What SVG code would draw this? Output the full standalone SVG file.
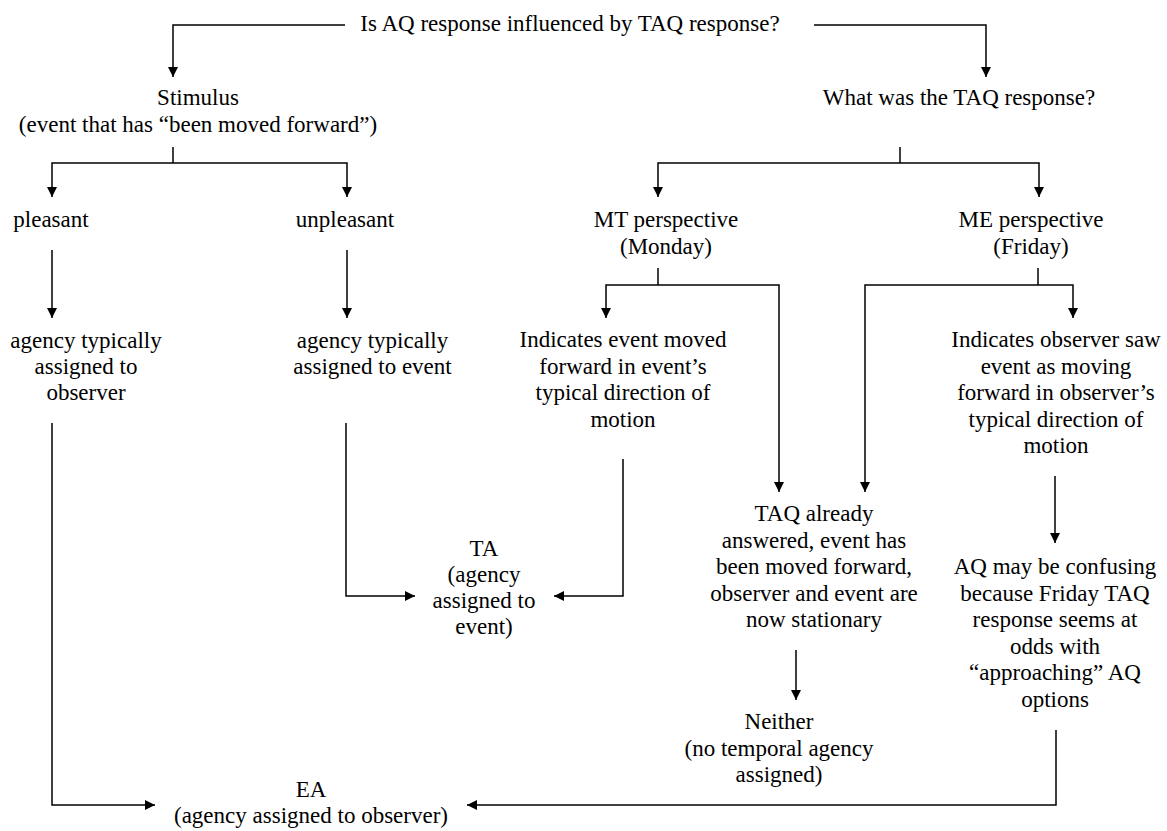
<svg xmlns="http://www.w3.org/2000/svg" width="1167" height="831" viewBox="0 0 1167 831">
<defs>
<style>
text{font-family:"Liberation Serif","Times New Roman",serif;font-size:23px;fill:#000;text-anchor:middle}
.c path,.c line{fill:none;stroke:#000;stroke-width:1.5}
</style>
<marker id="ah" markerUnits="userSpaceOnUse" markerWidth="10" markerHeight="10" refX="10" refY="5" orient="auto" viewBox="0 0 10 10">
<path d="M0,0 L10,5 L0,10 z" fill="#000"/>
</marker>
</defs>
<rect width="1167" height="831" fill="#fff"/>
<g class="c" id="connectors">
<path d="M345,25 H173 V77" marker-end="url(#ah)"/>
<path d="M814,25 H986 V77" marker-end="url(#ah)"/>
<line x1="173" y1="147" x2="173" y2="163"/>
<path d="M173,163 H52 V197" marker-end="url(#ah)"/>
<path d="M173,163 H347 V197" marker-end="url(#ah)"/>
<line x1="52" y1="250" x2="52" y2="318" marker-end="url(#ah)"/>
<line x1="347" y1="250" x2="347" y2="318" marker-end="url(#ah)"/>
<line x1="900" y1="147" x2="900" y2="163"/>
<path d="M900,163 H658 V197" marker-end="url(#ah)"/>
<path d="M900,163 H1039 V197" marker-end="url(#ah)"/>
<line x1="658" y1="268" x2="658" y2="285"/>
<path d="M658,285 H606 V318" marker-end="url(#ah)"/>
<path d="M658,285 H779 V492" marker-end="url(#ah)"/>
<line x1="1038" y1="268" x2="1038" y2="285"/>
<path d="M1038,285 H1073 V318" marker-end="url(#ah)"/>
<path d="M1038,285 H865 V492" marker-end="url(#ah)"/>
<path d="M623,459 V596 H554" marker-end="url(#ah)"/>
<path d="M346,423 V596 H415" marker-end="url(#ah)"/>
<path d="M52,423 V805 H155" marker-end="url(#ah)"/>
<path d="M1056,730 V805 H467" marker-end="url(#ah)"/>
<line x1="1055" y1="476" x2="1055" y2="543" marker-end="url(#ah)"/>
<line x1="796" y1="650" x2="796" y2="700" marker-end="url(#ah)"/>
</g>
<g id="n-question"><text x="570" y="31">Is AQ response influenced by TAQ response?</text></g>
<g id="n-stimulus"><text x="198" y="105">Stimulus</text><text x="198" y="131.5">(event that has “been moved forward”)</text></g>
<g id="n-taq-response"><text x="959" y="105">What was the TAQ response?</text></g>
<g id="n-pleasant"><text x="51" y="227">pleasant</text></g>
<g id="n-unpleasant"><text x="345" y="227">unpleasant</text></g>
<g id="n-mt"><text x="666" y="227">MT perspective</text><text x="666" y="253.5">(Monday)</text></g>
<g id="n-me"><text x="1031" y="227">ME perspective</text><text x="1031" y="253.5">(Friday)</text></g>
<g id="n-agency-observer"><text x="86" y="348">agency typically</text><text x="86" y="374">assigned to</text><text x="86" y="400">observer</text></g>
<g id="n-agency-event"><text x="372.5" y="348">agency typically</text><text x="372.5" y="374">assigned to event</text></g>
<g id="n-mt-indicates"><text x="623" y="347">Indicates event moved</text><text x="623" y="373.5">forward in event’s</text><text x="623" y="400">typical direction of</text><text x="623" y="426.5">motion</text></g>
<g id="n-me-indicates"><text x="1056" y="347">Indicates observer saw</text><text x="1056" y="373.5">event as moving</text><text x="1056" y="400">forward in observer’s</text><text x="1056" y="426.5">typical direction of</text><text x="1056" y="453">motion</text></g>
<g id="n-taq-answered"><text x="814" y="521">TAQ already</text><text x="814" y="547.5">answered, event has</text><text x="814" y="574">been moved forward,</text><text x="814" y="600.5">observer and event are</text><text x="814" y="627">now stationary</text></g>
<g id="n-ta"><text x="484" y="556">TA</text><text x="484" y="582">(agency</text><text x="484" y="608">assigned to</text><text x="484" y="634">event)</text></g>
<g id="n-aq-confusing"><text x="1055" y="574">AQ may be confusing</text><text x="1055" y="600.5">because Friday TAQ</text><text x="1055" y="627">response seems at</text><text x="1055" y="653.5">odds with</text><text x="1055" y="680">“approaching” AQ</text><text x="1055" y="706.5">options</text></g>
<g id="n-neither"><text x="779" y="729">Neither</text><text x="779" y="755.5">(no temporal agency</text><text x="779" y="782">assigned)</text></g>
<g id="n-ea"><text x="311" y="797">EA</text><text x="311" y="823">(agency assigned to observer)</text></g>
</svg>
